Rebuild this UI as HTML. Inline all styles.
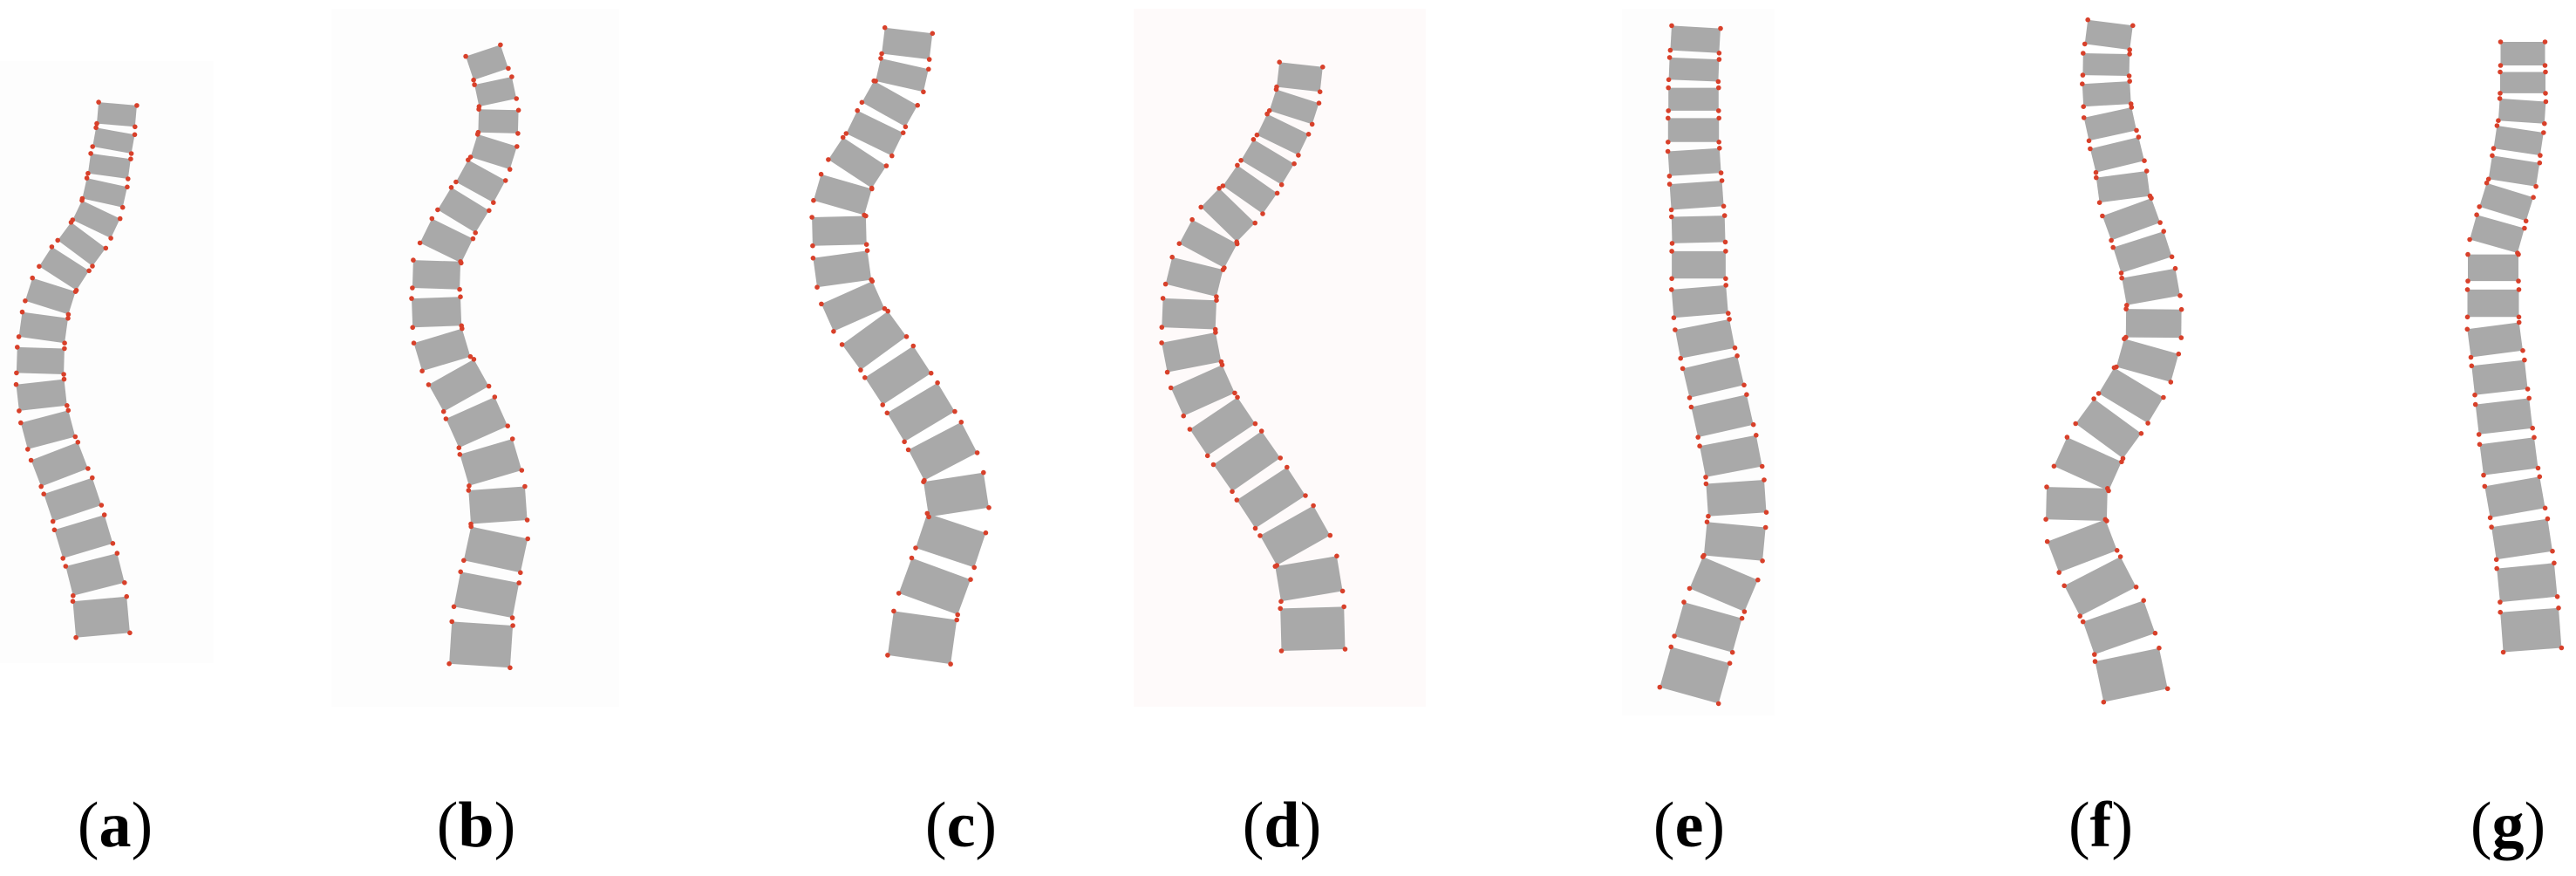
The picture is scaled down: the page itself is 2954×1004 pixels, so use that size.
<!DOCTYPE html>
<html><head><meta charset="utf-8"><style>
html,body{margin:0;padding:0;background:#fff;}
svg{display:block;}
</style></head><body>
<svg id="s" width="2954" height="1004" viewBox="0 0 2954 1004" xmlns="http://www.w3.org/2000/svg">
<rect x="0" y="0" width="2954" height="1004" fill="#fff"/>
<rect x="0" y="70" width="245" height="690" fill="#fdfdfd"/>
<rect x="380" y="10" width="330" height="800" fill="#fdfdfd"/>
<rect x="1300" y="10" width="335" height="800" fill="#fefafa"/>
<rect x="1860" y="10" width="175" height="810" fill="#fdfdfd"/>
<g id="sp"></g>
<g font-family="Liberation Serif, serif" font-size="74" fill="#000" text-anchor="middle">
<text x="132" y="970">(<tspan font-weight="bold">a</tspan>)</text>
<text x="546" y="970">(<tspan font-weight="bold">b</tspan>)</text>
<text x="1102" y="970">(<tspan font-weight="bold">c</tspan>)</text>
<text x="1470" y="970">(<tspan font-weight="bold">d</tspan>)</text>
<text x="1937" y="970">(<tspan font-weight="bold">e</tspan>)</text>
<text x="2409" y="970">(<tspan font-weight="bold">f</tspan>)</text>
<text x="2876" y="970">(<tspan font-weight="bold">g</tspan>)</text>
</g>
</svg>
<script>
var spines=[
{n:17,w0:44,w1:62,p:[[135,119],[132,154],[127,179],[123,208],[115,244],[98,276],[77,301],[58,333],[50,369],[46,407],[46,449],[54,494],[69,535],[85,574],[96,619],[112,660],[118,728]]},
{n:17,w0:42,w1:70,p:[[554,58],[569,103],[573,135],[569,173],[550,212],[531,240],[515,269],[500,301],[500,321],[500,362],[504,404],[531,449],[554,500],[569,551],[573,609],[562,660],[554,702],[550,763]]},
{n:17,w0:55,w1:73,p:[[1042,35],[1035,93],[1015,128],[996,167],[973,202],[962,231],[962,269],[965,314],[977,356],[1008,397],[1042,449],[1069,494],[1092,538],[1100,590],[1081,647],[1062,699],[1054,756]]},
{n:17,w0:50,w1:73,p:[[1492,74],[1487,119],[1470,158],[1453,187],[1431,223],[1397,258],[1369,310],[1363,352],[1363,394],[1374,439],[1397,484],[1431,529],[1464,581],[1492,619],[1504,671],[1506,745]]},
{n:18,w0:56,w1:70,p:[[1945,31],[1942,84],[1942,129],[1942,168],[1945,216],[1948,258],[1948,297],[1948,342],[1954,387],[1965,432],[1976,481],[1987,529],[1993,581],[1987,645],[1965,697],[1937,797]]},
{n:19,w0:52,w1:75,p:[[2420,26],[2415,65],[2415,97],[2417,129],[2424,161],[2432,194],[2437,232],[2449,265],[2460,297],[2469,335],[2471,381],[2460,426],[2437,465],[2404,510],[2381,561],[2381,613],[2404,665],[2432,716],[2449,797]]},
{n:17,w0:51,w1:67,p:[[2893,48],[2893,97],[2893,129],[2887,168],[2882,206],[2870,245],[2859,284],[2859,329],[2859,374],[2865,419],[2870,465],[2876,516],[2882,561],[2893,619],[2899,677],[2904,745]]}
];
var out="";
function at(p,cum,s){
 for(var i=1;i<p.length;i++){ if(cum[i]>=s||i==p.length-1){var t=(s-cum[i-1])/(cum[i]-cum[i-1]||1);return [p[i-1][0]+t*(p[i][0]-p[i-1][0]),p[i-1][1]+t*(p[i][1]-p[i-1][1])];}}
}
spines.forEach(function(sp){
 var p=sp.p,cum=[0];
 for(var i=1;i<p.length;i++){cum.push(cum[i-1]+Math.hypot(p[i][0]-p[i-1][0],p[i][1]-p[i-1][1]));}
 var L=cum[cum.length-1];
 var wts=[],tot=0;
 for(var k=0;k<sp.n;k++){var wt=1+0.7*k/(sp.n-1);wts.push(wt);tot+=wt;}
 var starts=[0];for(var k=0;k<sp.n;k++){starts.push(starts[k]+wts[k]/tot*L);}
 var dots="";
 for(var k=0;k<sp.n;k++){
  var seg=starts[k+1]-starts[k],gap=seg*0.24;
  var a=starts[k]+(k==0?0:gap/2), b=starts[k+1]-(k==sp.n-1?0:gap/2);
  var A=at(p,cum,a),B=at(p,cum,b);
  var dx=B[0]-A[0],dy=B[1]-A[1],d=Math.hypot(dx,dy)||1;
  var nx=-dy/d,ny=dx/d;
  var w=sp.w0+(sp.w1-sp.w0)*(k/(sp.n-1));
  var h=w/2;
  var c=[[A[0]-nx*h,A[1]-ny*h],[A[0]+nx*h,A[1]+ny*h],[B[0]+nx*h,B[1]+ny*h],[B[0]-nx*h,B[1]-ny*h]];
  out+='<polygon points="'+c.map(function(q){return q[0].toFixed(1)+','+q[1].toFixed(1)}).join(' ')+'" fill="#a9a9a9"/>';
  c.forEach(function(q){dots+='<circle cx="'+q[0].toFixed(1)+'" cy="'+q[1].toFixed(1)+'" r="2.8" fill="#d8402a"/>';});
 }
 out+=dots;
});
document.getElementById("sp").innerHTML=out;
</script>
</body></html>
